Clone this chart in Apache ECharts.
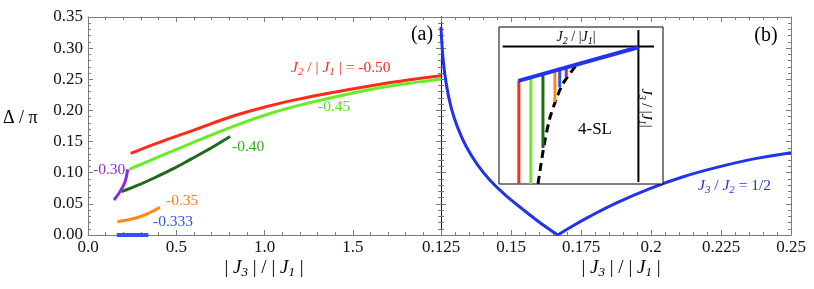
<!DOCTYPE html>
<html><head><meta charset="utf-8">
<script src="https://cdn.jsdelivr.net/npm/echarts@6/dist/echarts.min.js"></script>
<style>html,body{margin:0;padding:0;background:#fff}#c{width:814px;height:289px}</style>
</head><body><div id="c"></div>
<script>
// ---- Panel (a): Δ/π vs |J3|/|J1| for several J2/|J1| ----
const redX = [0.242, 0.3, 0.446, 0.6, 0.823, 1.031, 1.2, 1.409, 1.579, 1.768, 2.0];
const redY = [0.131, 0.1375, 0.153, 0.1685, 0.191, 0.2075, 0.2185, 0.2300, 0.2385, 0.2468, 0.2555];
const lgX = [0.234, 0.3, 0.446, 0.6, 0.823, 1.031, 1.2, 1.409, 1.579, 1.768, 2.0];
const lgY = [0.1055, 0.1135, 0.131, 0.149, 0.1745, 0.195, 0.2085, 0.2225, 0.2325, 0.2415, 0.2505];
const dgX = [0.19, 0.28, 0.389, 0.484, 0.578, 0.70, 0.805];
const dgY = [0.0695, 0.0795, 0.0935, 0.1065, 0.121, 0.140, 0.158];
const puX = [0.147, 0.181, 0.21, 0.225];
const puY = [0.0562, 0.0695, 0.0856, 0.1055];
const orX = [0.166, 0.266, 0.342, 0.408];
const orY = [0.0214, 0.0268, 0.0348, 0.0445];
const blX = [0.163, 0.342];
const blY = [0.0, 0.0];
// ---- Panel (b): J3/J2 = 1/2 (two branches meeting at the cusp) ----
const bLeftX = [0.125, 0.1256, 0.1268, 0.1286, 0.131, 0.134, 0.138, 0.1425, 0.148, 0.154, 0.160, 0.1667];
const bLeftY = [0.334, 0.29, 0.245, 0.205, 0.172, 0.142, 0.113, 0.088, 0.064, 0.042, 0.021, 0.0];
const bRightX = [0.1667, 0.172, 0.178, 0.1877, 0.1996, 0.2115, 0.2235, 0.2354, 0.25];
const bRightY = [0.0, 0.0145, 0.0295, 0.0515, 0.0745, 0.0935, 0.1085, 0.121, 0.132];
// ---- Inset (schematic, normalized units) ----
const insHX = [0.022, 0.945], insHY = [0.124, 0.124];
const insVX = [0.850, 0.850], insVY = [0.019, 0.987];
const insBlueX = [0.118, 0.850], insBlueY = [0.343, 0.129];
const insBarU = [0.121, 0.194, 0.268, 0.341, 0.370, 0.410];
const insBarTop = [0.343, 0.321, 0.299, 0.278, 0.269, 0.258];
const insBarBottom = [1.0, 1.0, 0.77, 0.478, 0.382, 0.318];
const insBarColors = ['#ff2a1a', '#66ee22', '#1e6a1a', '#ff8a1a', '#3355ee', '#8a2be2'];
const dashX = [0.238, 0.275, 0.309, 0.350, 0.390, 0.471];
const dashY = [0.998, 0.753, 0.584, 0.457, 0.361, 0.244];

const F = 'Liberation Serif';
const zip = (a, b) => a.map((v, i) => [v, b[i]]);
const frame = '#7a7a7a';
function ax(grid, pos, o, lineColor, labels) {
  return Object.assign({
    gridIndex: grid, type: 'value', position: pos,
    axisLine: { show: true, onZero: false, lineStyle: { color: lineColor || frame, width: 1 } },
    axisTick: { show: true, inside: true, length: 5, lineStyle: { color: frame } },
    minorTick: { show: true, splitNumber: 5, length: 3, lineStyle: { color: frame } },
    splitLine: { show: false },
    axisLabel: labels ? Object.assign({ show: true, fontFamily: F, fontSize: 17, color: '#111' }, labels) : { show: false }
  }, o);
}
const xA = [
  ax(0, 'bottom', { min: 0, max: 2, interval: 0.5 }, null, { margin: 4, formatter: v => v >= 1.99 ? '' : v.toFixed(1) }),
  ax(0, 'top', { min: 0, max: 2, interval: 0.5 }),
  ax(1, 'bottom', { min: 0.125, max: 0.25, interval: 0.025 }, null, { margin: 4, formatter: v => String(parseFloat(v.toFixed(3))) }),
  ax(1, 'top', { min: 0.125, max: 0.25, interval: 0.025 }),
  { gridIndex: 2, type: 'value', min: 0, max: 1, show: false }
];
const yA = [
  ax(0, 'left', { min: 0, max: 0.35, interval: 0.05 }, null, { margin: 5, formatter: v => v.toFixed(2) }),
  ax(0, 'right', { min: 0, max: 0.35, interval: 0.05 }, '#111'),
  ax(1, 'left', { min: 0, max: 0.35, interval: 0.05 }, '#111'),
  ax(1, 'right', { min: 0, max: 0.35, interval: 0.05 }),
  { gridIndex: 2, type: 'value', min: 0, max: 1, inverse: true, show: false }
];
function line(xs, ys, color, xi, opts) {
  return Object.assign({
    type: 'line', xAxisIndex: xi, yAxisIndex: xi, data: zip(xs, ys), showSymbol: false, symbol: 'none',
    smooth: 0.35, lineStyle: { color: color, width: 3 }, z: 3, silent: true, animation: false
  }, opts || {});
}
const series = [
  line(redX, redY, '#ff2a1a', 0),
  line(lgX, lgY, '#66ee22', 0),
  line(dgX, dgY, '#1e6a1a', 0),
  line(puX, puY, '#8a2be2', 0),
  line(orX, orY, '#ff8a1a', 0),
  line(blX, blY, '#3355ee', 0, { lineStyle: { color: '#3355ee', width: 4 }, smooth: false }),
  line(bLeftX, bLeftY, '#2233ee', 2, { smooth: 0.35, z: 2 }),
  line(bRightX, bRightY, '#2233ee', 2, { smooth: 0.35, z: 2 }),
  line(insHX, insHY, '#000', 4, { smooth: false, lineStyle: { color: '#000', width: 2 }, z: 5 }),
  line(insVX, insVY, '#000', 4, { smooth: false, lineStyle: { color: '#000', width: 2 }, z: 5 }),
  line(dashX, dashY, '#000', 4, { smooth: 0.3, lineStyle: { color: '#000', width: 3, type: [8, 5] }, z: 5 })
];
insBarU.forEach((u, i) => series.push(line([u, u], [insBarTop[i], insBarBottom[i]], insBarColors[i], 4,
  { smooth: false, lineStyle: { color: insBarColors[i], width: 3 }, z: 5 })));
series.push(line(insBlueX, insBlueY, '#2233ee', 4, { smooth: false, lineStyle: { color: '#2233ee', width: 4 }, z: 6 }));

function rich(size, color) {
  return {
    i: { fontFamily: F, fontSize: size, fontStyle: 'italic', color: color, lineHeight: size + 4, verticalAlign: 'middle' },
    s: { fontFamily: F, fontSize: Math.round(size * 0.68), fontStyle: 'italic', color: color, lineHeight: Math.round(size * 0.68), verticalAlign: 'bottom' },
    n: { fontFamily: F, fontSize: size, color: color, lineHeight: size + 4, verticalAlign: 'middle' }
  };
}
function txt(x, y, text, size, color, align, extra) {
  return Object.assign({
    type: 'text', x: x, y: y, z: 20,
    style: { text: text, fontFamily: F, fontSize: size, fill: color, align: align || 'left', verticalAlign: 'middle', rich: rich(size, color) }
  }, extra || {});
}
const graphic = [
  txt(291, 68, '{i|J}{s|2}{n| / | }{i|J}{s|1}{n| | = -0.50}', 15.5, '#ff2a1a'),
  txt(318, 107, '-0.45', 15.5, '#55dd22'),
  txt(232, 147, '-0.40', 15.5, '#33aa22'),
  txt(93, 170, '-0.30', 15.5, '#8a2be2'),
  txt(166, 201, '-0.35', 15.5, '#ff7a1a'),
  txt(153, 222, '-0.333', 15.5, '#3355ee'),
  txt(422, 35, '(a)', 20, '#000', 'center'),
  txt(766, 36, '(b)', 20, '#000', 'center'),
  txt(3, 118, 'Δ / π', 18, '#000'),
  txt(264, 268, '{n|| }{i|J}{s|3}{n| | / | }{i|J}{s|1}{n| |}', 19, '#000', 'center'),
  txt(621, 268, '{n|| }{i|J}{s|3}{n| | / | }{i|J}{s|1}{n| |}', 19, '#000', 'center'),
  txt(698, 186, '{i|J}{s|3}{n| / }{i|J}{s|2}{n| = 1/2}', 15.5, '#2233ee'),
  txt(576, 37, '{i|J}{s|2}{n| / |}{i|J}{s|1}{n||}', 14, '#000', 'center'),
  txt(595, 130, '4-SL', 17, '#000', 'center'),
  txt(646, 108, '{i|J}{s|3}{n| / |}{i|J}{s|1}{n||}', 14, '#000', 'center', { rotation: -Math.PI / 2 })
];

const chart = echarts.init(document.getElementById('c'), null, { renderer: 'canvas' });
chart.setOption({
  animation: false,
  backgroundColor: '#fff',
  grid: [
    { left: 88, right: 373, top: 17, bottom: 54 },
    { left: 441, right: 23, top: 17, bottom: 54 },
    { left: 499, top: 27, width: 164, height: 157, show: true, borderColor: '#000', borderWidth: 1, backgroundColor: '#fff', z: 4 }
  ],
  xAxis: xA,
  yAxis: yA,
  series: series,
  graphic: graphic
});
</script></body></html>
